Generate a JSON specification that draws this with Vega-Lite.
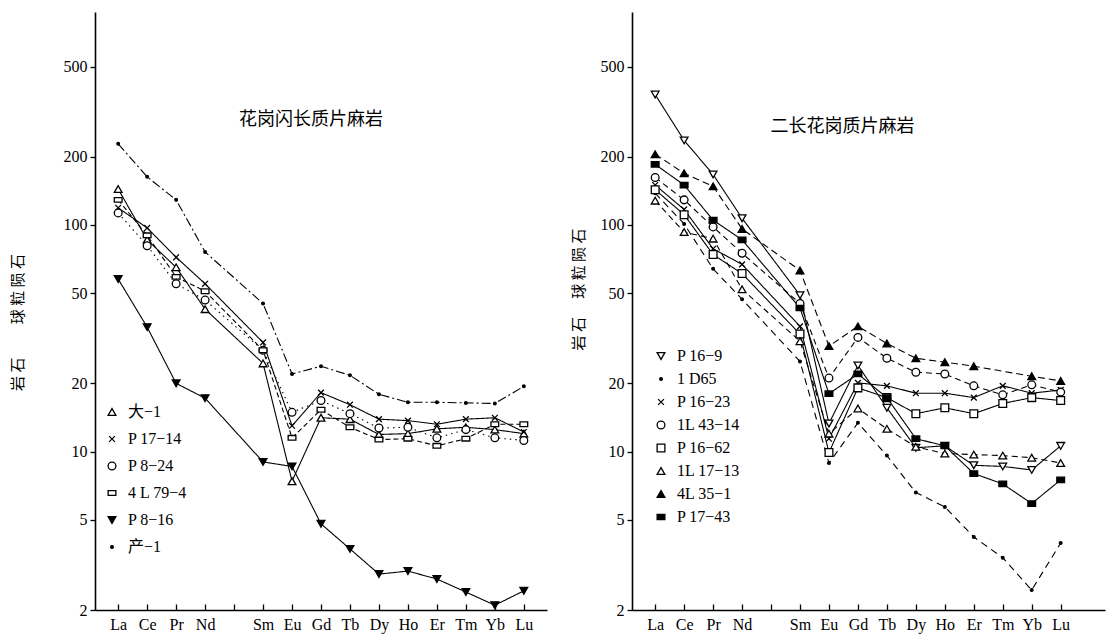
{
  "$schema": "https://vega.github.io/schema/vega-lite/v6.json",
  "background": "white",
  "padding": {"left": 10, "top": 12, "right": 5, "bottom": 5},
  "spacing": 24,
  "config": {
    "view": {"stroke": null},
    "font": "Liberation Serif, Noto Sans CJK SC",
    "axis": {
      "grid": false, "domainColor": "black", "domainWidth": 1.6, "tickColor": "black", "tickWidth": 1.3,
      "labelColor": "black", "labelFont": "Liberation Serif", "labelFontSize": 16,
      "titleColor": "black", "titleFont": "Noto Sans CJK SC", "titleFontWeight": "normal", "titleFontSize": 15
    },
    "legend": {"labelFontSize": 16, "labelFont": "Liberation Serif, Noto Sans CJK SC", "labelColor": "black", "symbolSize": 60, "labelOffset": 8, "symbolStrokeWidth": 1.3, "padding": 0},
    "title": {"font": "Noto Sans CJK SC", "fontWeight": "normal", "fontSize": 18, "color": "black"}
  },
  "datasets": {
    "left": [
      {"s":"产−1","Z":57,"v":228},{"s":"产−1","Z":58,"v":163},{"s":"产−1","Z":59,"v":129},{"s":"产−1","Z":60,"v":76},{"s":"产−1","Z":62,"v":45},{"s":"产−1","Z":63,"v":22},{"s":"产−1","Z":64,"v":23.8},{"s":"产−1","Z":65,"v":21.7},{"s":"产−1","Z":66,"v":17.9},{"s":"产−1","Z":67,"v":16.5},{"s":"产−1","Z":68,"v":16.5},{"s":"产−1","Z":69,"v":16.4},{"s":"产−1","Z":70,"v":16.3},{"s":"产−1","Z":71,"v":19.4},
      {"s":"P 8−16","Z":57,"v":57.7},{"s":"P 8−16","Z":58,"v":35.4},{"s":"P 8−16","Z":59,"v":20},{"s":"P 8−16","Z":60,"v":17.2},{"s":"P 8−16","Z":62,"v":9.0},{"s":"P 8−16","Z":63,"v":8.6},{"s":"P 8−16","Z":64,"v":4.8},{"s":"P 8−16","Z":65,"v":3.72},{"s":"P 8−16","Z":66,"v":2.88},{"s":"P 8−16","Z":67,"v":2.97},{"s":"P 8−16","Z":68,"v":2.74},{"s":"P 8−16","Z":69,"v":2.4},{"s":"P 8−16","Z":70,"v":2.1},{"s":"P 8−16","Z":71,"v":2.43},
      {"s":"大−1","Z":57,"v":144},{"s":"大−1","Z":58,"v":86},{"s":"大−1","Z":59,"v":65},{"s":"大−1","Z":60,"v":42.5},{"s":"大−1","Z":62,"v":24.5},{"s":"大−1","Z":63,"v":7.4},{"s":"大−1","Z":64,"v":14.1},{"s":"大−1","Z":65,"v":13.9},{"s":"大−1","Z":66,"v":11.9},{"s":"大−1","Z":67,"v":12},{"s":"大−1","Z":68,"v":12.6},{"s":"大−1","Z":69,"v":12.8},{"s":"大−1","Z":70,"v":12.5},{"s":"大−1","Z":71,"v":12},
      {"s":"P 17−14","Z":57,"v":119},{"s":"P 17−14","Z":58,"v":97},{"s":"P 17−14","Z":59,"v":72},{"s":"P 17−14","Z":60,"v":55},{"s":"P 17−14","Z":62,"v":30.3},{"s":"P 17−14","Z":63,"v":13},{"s":"P 17−14","Z":64,"v":18.2},{"s":"P 17−14","Z":65,"v":16.1},{"s":"P 17−14","Z":66,"v":13.9},{"s":"P 17−14","Z":67,"v":13.7},{"s":"P 17−14","Z":68,"v":13.2},{"s":"P 17−14","Z":69,"v":13.9},{"s":"P 17−14","Z":70,"v":14.1},{"s":"P 17−14","Z":71,"v":12.2},
      {"s":"P 8−24","Z":57,"v":113},{"s":"P 8−24","Z":58,"v":81},{"s":"P 8−24","Z":59,"v":55},{"s":"P 8−24","Z":60,"v":46.6},{"s":"P 8−24","Z":62,"v":28},{"s":"P 8−24","Z":63,"v":14.9},{"s":"P 8−24","Z":64,"v":16.8},{"s":"P 8−24","Z":65,"v":14.7},{"s":"P 8−24","Z":66,"v":12.7},{"s":"P 8−24","Z":67,"v":12.8},{"s":"P 8−24","Z":68,"v":11.5},{"s":"P 8−24","Z":69,"v":12.5},{"s":"P 8−24","Z":70,"v":11.5},{"s":"P 8−24","Z":71,"v":11.2},
      {"s":"4 L 79−4","Z":57,"v":129},{"s":"4 L 79−4","Z":58,"v":90},{"s":"4 L 79−4","Z":59,"v":59},{"s":"4 L 79−4","Z":60,"v":51},{"s":"4 L 79−4","Z":62,"v":28},{"s":"4 L 79−4","Z":63,"v":11.5},{"s":"4 L 79−4","Z":64,"v":15.3},{"s":"4 L 79−4","Z":65,"v":12.8},{"s":"4 L 79−4","Z":66,"v":11.3},{"s":"4 L 79−4","Z":67,"v":11.4},{"s":"4 L 79−4","Z":68,"v":10.6},{"s":"4 L 79−4","Z":69,"v":11.4},{"s":"4 L 79−4","Z":70,"v":13.2},{"s":"4 L 79−4","Z":71,"v":13.2}
    ],
    "right": [
      {"s":"P 16−9","Z":57,"v":376},{"s":"P 16−9","Z":58,"v":236},{"s":"P 16−9","Z":59,"v":167},{"s":"P 16−9","Z":60,"v":107},{"s":"P 16−9","Z":62,"v":49},{"s":"P 16−9","Z":63,"v":13.3},{"s":"P 16−9","Z":64,"v":24},{"s":"P 16−9","Z":65,"v":15.6},{"s":"P 16−9","Z":66,"v":10.4},{"s":"P 16−9","Z":67,"v":10.6},{"s":"P 16−9","Z":68,"v":8.7},{"s":"P 16−9","Z":69,"v":8.6},{"s":"P 16−9","Z":70,"v":8.3},{"s":"P 16−9","Z":71,"v":10.6},
      {"s":"1 D65","Z":57,"v":138},{"s":"1 D65","Z":58,"v":101},{"s":"1 D65","Z":59,"v":64},{"s":"1 D65","Z":60,"v":47},{"s":"1 D65","Z":62,"v":25},{"s":"1 D65","Z":63,"v":8.9},{"s":"1 D65","Z":64,"v":13.4},{"s":"1 D65","Z":65,"v":9.6},{"s":"1 D65","Z":66,"v":6.6},{"s":"1 D65","Z":67,"v":5.7},{"s":"1 D65","Z":68,"v":4.2},{"s":"1 D65","Z":69,"v":3.4},{"s":"1 D65","Z":70,"v":2.45},{"s":"1 D65","Z":71,"v":3.95},
      {"s":"P 16−23","Z":57,"v":150},{"s":"P 16−23","Z":58,"v":117},{"s":"P 16−23","Z":59,"v":78.5},{"s":"P 16−23","Z":60,"v":67},{"s":"P 16−23","Z":62,"v":35.7},{"s":"P 16−23","Z":63,"v":11.4},{"s":"P 16−23","Z":64,"v":20.1},{"s":"P 16−23","Z":65,"v":19.5},{"s":"P 16−23","Z":66,"v":18.1},{"s":"P 16−23","Z":67,"v":18.1},{"s":"P 16−23","Z":68,"v":17.3},{"s":"P 16−23","Z":69,"v":19.5},{"s":"P 16−23","Z":70,"v":18.1},{"s":"P 16−23","Z":71,"v":18.7},
      {"s":"1L 43−14","Z":57,"v":162},{"s":"1L 43−14","Z":58,"v":129},{"s":"1L 43−14","Z":59,"v":98},{"s":"1L 43−14","Z":60,"v":75},{"s":"1L 43−14","Z":62,"v":45},{"s":"1L 43−14","Z":63,"v":21.1},{"s":"1L 43−14","Z":64,"v":31.9},{"s":"1L 43−14","Z":65,"v":25.8},{"s":"1L 43−14","Z":66,"v":22.4},{"s":"1L 43−14","Z":67,"v":22},{"s":"1L 43−14","Z":68,"v":19.5},{"s":"1L 43−14","Z":69,"v":17.8},{"s":"1L 43−14","Z":70,"v":19.7},{"s":"1L 43−14","Z":71,"v":18.3},
      {"s":"P 16−62","Z":57,"v":143},{"s":"P 16−62","Z":58,"v":111},{"s":"P 16−62","Z":59,"v":74},{"s":"P 16−62","Z":60,"v":61},{"s":"P 16−62","Z":62,"v":33},{"s":"P 16−62","Z":63,"v":9.9},{"s":"P 16−62","Z":64,"v":19.1},{"s":"P 16−62","Z":65,"v":17.3},{"s":"P 16−62","Z":66,"v":14.7},{"s":"P 16−62","Z":67,"v":15.6},{"s":"P 16−62","Z":68,"v":14.7},{"s":"P 16−62","Z":69,"v":16.3},{"s":"P 16−62","Z":70,"v":17.3},{"s":"P 16−62","Z":71,"v":16.8},
      {"s":"1L 17−13","Z":57,"v":128},{"s":"1L 17−13","Z":58,"v":93},{"s":"1L 17−13","Z":59,"v":87},{"s":"1L 17−13","Z":60,"v":52},{"s":"1L 17−13","Z":62,"v":30.7},{"s":"1L 17−13","Z":63,"v":12},{"s":"1L 17−13","Z":64,"v":15.5},{"s":"1L 17−13","Z":65,"v":12.6},{"s":"1L 17−13","Z":66,"v":10.5},{"s":"1L 17−13","Z":67,"v":9.8},{"s":"1L 17−13","Z":68,"v":9.7},{"s":"1L 17−13","Z":69,"v":9.6},{"s":"1L 17−13","Z":70,"v":9.4},{"s":"1L 17−13","Z":71,"v":8.9},
      {"s":"4L 35−1","Z":57,"v":205},{"s":"4L 35−1","Z":58,"v":169},{"s":"4L 35−1","Z":59,"v":148},{"s":"4L 35−1","Z":60,"v":96},{"s":"4L 35−1","Z":62,"v":63},{"s":"4L 35−1","Z":63,"v":29.2},{"s":"4L 35−1","Z":64,"v":35.7},{"s":"4L 35−1","Z":65,"v":30},{"s":"4L 35−1","Z":66,"v":25.8},{"s":"4L 35−1","Z":67,"v":24.8},{"s":"4L 35−1","Z":68,"v":23.8},{"s":"4L 35−1","Z":70,"v":21.5},{"s":"4L 35−1","Z":71,"v":20.5},
      {"s":"P 17−43","Z":57,"v":185},{"s":"P 17−43","Z":58,"v":150},{"s":"P 17−43","Z":59,"v":105},{"s":"P 17−43","Z":60,"v":86},{"s":"P 17−43","Z":62,"v":43},{"s":"P 17−43","Z":63,"v":18},{"s":"P 17−43","Z":64,"v":22},{"s":"P 17−43","Z":65,"v":17.3},{"s":"P 17−43","Z":66,"v":11.4},{"s":"P 17−43","Z":67,"v":10.6},{"s":"P 17−43","Z":68,"v":8.0},{"s":"P 17−43","Z":69,"v":7.2},{"s":"P 17−43","Z":70,"v":5.9},{"s":"P 17−43","Z":71,"v":7.5}
    ]
  },
  "hconcat": [
    {
      "width": 452, "height": 598,
      "title": {"text": "花岗闪长质片麻岩", "dx": -10, "dy": 121},
      "data": {"name": "left"},
      "encoding": {
        "x": {"field": "Z", "type": "quantitative",
          "scale": {"domain": [56.2, 71.8], "nice": false, "zero": false},
          "axis": {"title": null, "values": [57,58,59,60,61,62,63,64,65,66,67,68,69,70,71],
            "labelExpr": "['La','Ce','Pr','Nd','','Sm','Eu','Gd','Tb','Dy','Ho','Er','Tm','Yb','Lu'][datum.value-57]",
            "tickSize": -6, "labelPadding": 12}},
        "y": {"field": "v", "type": "quantitative",
          "scale": {"type": "log", "domain": [2, 870], "nice": false},
          "axis": {"title": "岩 石　　 球 粒 陨 石", "values": [2,5,10,20,50,100,200,500], "tickSize": 5, "labelPadding": 3,
            "titleX": -78, "titleY": 310, "titleBaseline": "middle", "titleAngle": 270}}
      },
      "layer": [
        {"mark": {"type": "line", "color": "black", "strokeWidth": 1.1},
         "encoding": {"strokeDash": {"field": "s", "type": "nominal", "legend": null,
           "scale": {"domain": ["产−1","P 8−16","4 L 79−4","P 8−24","P 17−14","大−1"],
             "range": [[9,3,2,3],[1,0],[5,3],[1.5,4],[1,0],[1,0]]}}}},
        {"mark": {"type": "point", "filled": false, "stroke": "black", "strokeWidth": 1.3, "size": 60, "opacity": 1},
         "encoding": {
           "shape": {"field": "s", "type": "nominal",
             "scale": {"domain": ["大−1","P 17−14","P 8−24","4 L 79−4","P 8−16","产−1"],
               "range": ["triangle-up","M-0.75,-0.75L0.75,0.75M0.75,-0.75L-0.75,0.75","circle","M-1,-0.6H1V0.6H-1Z","triangle-down","M-0.35,0A0.35,0.35,0,1,1,0.35,0A0.35,0.35,0,1,1,-0.35,0Z"]},
             "legend": {"title": null, "orient": "none", "legendX": 9, "legendY": 392, "rowPadding": 11}},
           "fill": {"field": "s", "type": "nominal",
             "scale": {"domain": ["大−1","P 17−14","P 8−24","4 L 79−4","P 8−16","产−1"],
               "range": ["white","white","white","white","black","black"]},
             "legend": {"title": null, "orient": "none", "legendX": 9, "legendY": 392, "rowPadding": 11}}
         }}
      ]
    },
    {
      "width": 473, "height": 598,
      "title": {"text": "二长花岗质片麻岩", "dx": -26, "dy": 128},
      "data": {"name": "right"},
      "encoding": {
        "x": {"field": "Z", "type": "quantitative",
          "scale": {"domain": [56.2, 72.53], "nice": false, "zero": false},
          "axis": {"title": null, "values": [57,58,59,60,61,62,63,64,65,66,67,68,69,70,71],
            "labelExpr": "['La','Ce','Pr','Nd','','Sm','Eu','Gd','Tb','Dy','Ho','Er','Tm','Yb','Lu'][datum.value-57]",
            "tickSize": -6, "labelPadding": 12}},
        "y": {"field": "v", "type": "quantitative",
          "scale": {"type": "log", "domain": [2, 870], "nice": false},
          "axis": {"title": "岩 石　 球 粒 陨 石", "values": [2,5,10,20,50,100,200,500], "tickSize": 5, "labelPadding": 3,
            "titleX": -54, "titleY": 277, "titleBaseline": "middle", "titleAngle": 270}}
      },
      "layer": [
        {"mark": {"type": "line", "color": "black", "strokeWidth": 1.1},
         "encoding": {"strokeDash": {"field": "s", "type": "nominal", "legend": null,
           "scale": {"domain": ["P 17−43","4L 35−1","1L 17−13","P 16−62","1L 43−14","P 16−23","1 D65","P 16−9"],
             "range": [[1,0],[7,4],[6,4],[1,0],[6,4],[1,0],[7,5],[1,0]]}}}},
        {"mark": {"type": "point", "filled": false, "stroke": "black", "strokeWidth": 1.3, "size": 60, "opacity": 1},
         "encoding": {
           "shape": {"field": "s", "type": "nominal",
             "scale": {"domain": ["P 16−9","1 D65","P 16−23","1L 43−14","P 16−62","1L 17−13","4L 35−1","P 17−43"],
               "range": ["triangle-down","M-0.35,0A0.35,0.35,0,1,1,0.35,0A0.35,0.35,0,1,1,-0.35,0Z","M-0.75,-0.75L0.75,0.75M0.75,-0.75L-0.75,0.75","circle","square","triangle-up","triangle-up","M-1,-0.7H1V0.7H-1Z"]},
             "legend": {"title": null, "orient": "none", "legendX": 21, "legendY": 336, "rowPadding": 7}},
           "fill": {"field": "s", "type": "nominal",
             "scale": {"domain": ["P 16−9","1 D65","P 16−23","1L 43−14","P 16−62","1L 17−13","4L 35−1","P 17−43"],
               "range": ["white","black","white","white","white","white","black","black"]},
             "legend": {"title": null, "orient": "none", "legendX": 21, "legendY": 336, "rowPadding": 7}}
         }}
      ]
    }
  ],
  "resolve": {"scale": {"x": "independent", "y": "independent", "shape": "independent", "fill": "independent", "strokeDash": "independent"}}
}
